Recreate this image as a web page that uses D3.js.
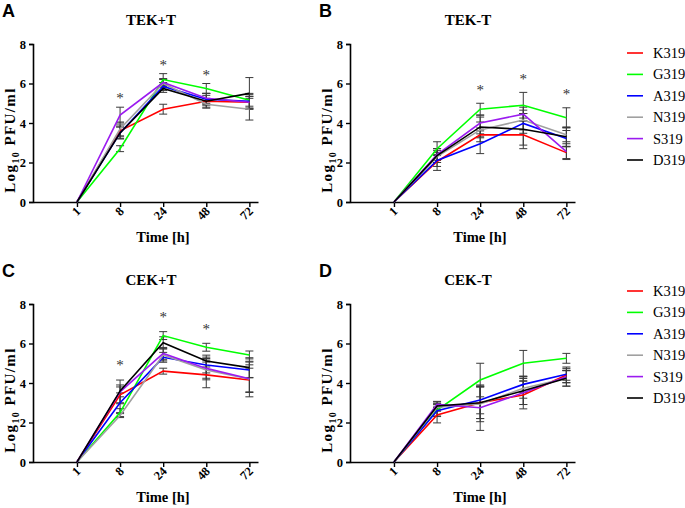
<!DOCTYPE html>
<html>
<head>
<meta charset="utf-8">
<script src="https://cdn.jsdelivr.net/npm/d3@7"></script>
<style>
  body { margin: 0; background: #fff; }
</style>
</head>
<body>
<div id="chart"></div>
<script>
// time points (categorical) and strains
var times = ["1", "8", "24", "48", "72"];
var strains = ["K319", "G319", "A319", "N319", "S319", "D319"];
var colors = ["#ff0000", "#00ff00", "#0000ff", "#a0a0a0", "#9b1bf0", "#000000"];
var yTicks = [0, 2, 4, 6, 8];

// A: TEK+T  (rows follow strains order)
var tekPlusMean = [
    [0, 3.6, 4.7, 5.1, 5.05],
    [0, 2.7, 6.2, 5.75, 5.15],
    [0, 3.5, 5.85, 5.2, 5.1],
    [0, 3.7, 6.0, 4.95, 4.7],
    [0, 4.4, 6.05, 5.25, 5.05],
    [0, 3.5, 5.75, 5.1, 5.5]
];
var tekPlusSd = [
    [0, 0.3, 0.25, 0.15, 0.3],
    [0, 0.15, 0.3, 0.25, 0.3],
    [0, 0.3, 0.2, 0.3, 0.4],
    [0, 0.35, 0.2, 0.2, 0.55],
    [0, 0.4, 0.2, 0.25, 0.3],
    [0, 0.3, 0.2, 0.3, 0.8]
];
var tekPlusStars = ["8", "24", "48"];
var tekPlusStarY = [5.4, 7.1, 6.6];

// B: TEK-T
var tekMinusMean = [
    [0, 2.05, 3.4, 3.4, 2.5],
    [0, 2.7, 4.7, 4.9, 4.27],
    [0, 2.1, 2.95, 3.98, 3.22],
    [0, 2.3, 3.65, 4.15, 3.4],
    [0, 2.4, 4.0, 4.45, 2.55],
    [0, 2.35, 3.8, 3.68, 3.3]
];
var tekMinusSd = [
    [0, 0.45, 0.35, 0.7, 0.3],
    [0, 0.35, 0.3, 0.65, 0.5],
    [0, 0.3, 0.5, 0.5, 0.4],
    [0, 0.3, 0.4, 0.5, 0.35],
    [0, 0.3, 0.4, 0.35, 0.4],
    [0, 0.35, 0.5, 0.8, 0.5]
];
var tekMinusStars = ["24", "48", "72"];
var tekMinusStarY = [5.8, 6.4, 5.6];

// C: CEK+T
var cekPlusMean = [
    [0, 3.4, 4.6, 4.41, 4.15],
    [0, 2.5, 6.4, 5.81, 5.42],
    [0, 3.0, 5.3, 4.91, 4.66],
    [0, 2.35, 5.42, 4.66, 4.2],
    [0, 3.55, 5.5, 4.74, 4.22],
    [0, 3.6, 6.04, 5.11, 4.78]
];
var cekPlusSd = [
    [0, 0.4, 0.15, 0.65, 0.6],
    [0, 0.2, 0.2, 0.2, 0.2],
    [0, 0.5, 0.25, 0.4, 0.4],
    [0, 0.1, 0.3, 0.5, 0.9],
    [0, 0.6, 0.3, 0.5, 0.7],
    [0, 0.3, 0.3, 0.3, 0.5]
];
var cekPlusStars = ["8", "24", "48"];
var cekPlusStarY = [5.05, 7.5, 6.9];

// D: CEK-T
var cekMinusMean = [
    [0, 2.38, 3.0, 3.39, 4.41],
    [0, 2.63, 4.15, 5.0, 5.25],
    [0, 2.6, 3.14, 3.93, 4.44],
    [0, 2.77, 2.94, 3.73, 4.24],
    [0, 2.92, 2.75, 3.51, 4.32],
    [0, 2.84, 3.0, 3.61, 4.24]
];
var cekMinusSd = [
    [0, 0.4, 0.8, 0.7, 0.4],
    [0, 0.3, 0.85, 0.65, 0.25],
    [0, 0.3, 0.7, 0.4, 0.3],
    [0, 0.2, 0.9, 0.5, 0.4],
    [0, 0.15, 1.15, 0.6, 0.3],
    [0, 0.2, 0.8, 0.7, 0.4]
];
var cekMinusStars = [];
var cekMinusStarY = [];

function init() {
    var w = 685;
    var h = 508;
    var plotW = 225;   // axis length in x
    var plotH = 158;   // axis length in y
    var serif = "Liberation Serif";

    var svg = d3.select("#chart")
        .append("svg")
        .attr("width", w)
        .attr("height", h);

    var panels = [
        {letter: "A", title: "TEK+T", mean: tekPlusMean, sd: tekPlusSd, stars: tekPlusStars, starY: tekPlusStarY, x: 33, y: 44, legend: true},
        {letter: "B", title: "TEK-T", mean: tekMinusMean, sd: tekMinusSd, stars: tekMinusStars, starY: tekMinusStarY, x: 350, y: 44, legend: false},
        {letter: "C", title: "CEK+T", mean: cekPlusMean, sd: cekPlusSd, stars: cekPlusStars, starY: cekPlusStarY, x: 33, y: 304, legend: true},
        {letter: "D", title: "CEK-T", mean: cekMinusMean, sd: cekMinusSd, stars: cekMinusStars, starY: cekMinusStarY, x: 350, y: 304, legend: false}
    ];

    //x is the index of the time point, first point sits one step from the axis
    var xScale = d3.scaleLinear().domain([-1.02, 4.2]).range([0, plotW]);
    var yScale = d3.scaleLinear().domain([0, 8]).range([plotH, 0]);

    panels.forEach(function (p, pi) {
        var g = svg.append("g").attr("transform", "translate(" + p.x + "," + p.y + ")");

        //panel letter
        svg.append("text")
            .attr("x", p.x - 31)
            .attr("y", p.y - 27)
            .attr("font-family", "Liberation Sans")
            .attr("font-weight", "bold")
            .attr("font-size", 18)
            .text(p.letter);

        //panel title
        g.append("text")
            .attr("x", 118)
            .attr("y", -19)
            .attr("text-anchor", "middle")
            .attr("font-family", serif)
            .attr("font-weight", "bold")
            .attr("font-size", 15)
            .text(p.title);

        //y axis
        var yAxis = g.append("g")
            .call(d3.axisLeft(yScale).tickValues(yTicks).tickSize(4).tickPadding(3).tickFormat(d3.format("d")));
        yAxis.attr("font-family", serif).attr("font-size", 12.5).attr("font-weight", "bold");
        yAxis.select(".domain").attr("stroke-width", 1.6);
        yAxis.selectAll(".tick line").attr("stroke-width", 1.4);

        //x axis with rotated labels
        var xAxis = g.append("g")
            .attr("transform", "translate(0," + plotH + ")")
            .call(d3.axisBottom(xScale).tickValues(d3.range(times.length)).tickSize(5).tickSizeOuter(0)
                .tickFormat(function (i) { return times[i]; }));
        xAxis.attr("font-family", serif).attr("font-size", 12.5).attr("font-weight", "bold");
        xAxis.select(".domain").attr("stroke-width", 1.6);
        xAxis.selectAll(".tick line").attr("stroke-width", 1.4);
        xAxis.selectAll(".tick text")
            .attr("text-anchor", "end")
            .attr("dy", null)
            .attr("y", 0)
            .attr("transform", "translate(4,10) rotate(-45)");

        //axis titles
        g.append("text")
            .attr("x", 130)
            .attr("y", plotH + 40)
            .attr("text-anchor", "middle")
            .attr("font-family", serif)
            .attr("font-weight", "bold")
            .attr("font-size", 14.5)
            .text("Time [h]");

        var yl = g.append("text")
            .attr("transform", "translate(-18," + (plotH / 2 + 17) + ") rotate(-90)")
            .attr("text-anchor", "middle")
            .attr("font-family", serif)
            .attr("font-weight", "bold")
            .attr("font-size", 15)
            .attr("letter-spacing", 1.4);
        yl.append("tspan").text("Log");
        yl.append("tspan").attr("font-size", 10).attr("dy", 4).text("10");
        yl.append("tspan").attr("dy", -4).text(" PFU/ml");

        //error bars (skip the zero time point)
        strains.forEach(function (s, si) {
            p.sd[si].forEach(function (e, ti) {
                if (e <= 0) return;
                var cx = xScale(ti);
                var top = yScale(p.mean[si][ti] + e);
                var bot = yScale(p.mean[si][ti] - e);
                var eg = g.append("g").attr("stroke", "#3a3a3a").attr("stroke-width", 1);
                eg.append("line").attr("x1", cx).attr("x2", cx).attr("y1", top).attr("y2", bot);
                eg.append("line").attr("x1", cx - 4).attr("x2", cx + 4).attr("y1", top).attr("y2", top);
                eg.append("line").attr("x1", cx - 4).attr("x2", cx + 4).attr("y1", bot).attr("y2", bot);
            });
        });

        //series lines
        var line = d3.line()
            .x(function (d, i) { return xScale(i); })
            .y(function (d) { return yScale(d); });

        strains.forEach(function (s, si) {
            g.append("path")
                .datum(p.mean[si])
                .attr("fill", "none")
                .attr("stroke", colors[si])
                .attr("stroke-width", 1.6)
                .attr("d", line);
        });

        //significance stars
        p.stars.forEach(function (t, k) {
            g.append("text")
                .attr("x", xScale(times.indexOf(t)))
                .attr("y", yScale(p.starY[k]) + 8)
                .attr("text-anchor", "middle")
                .attr("font-family", serif)
                .attr("font-size", 15)
                .attr("fill", "#333333")
                .text("*");
        });

        //legend to the right of B and D
        if (p.legend) {
            var lg = svg.append("g").attr("transform", "translate(627," + (p.y + 9 - (pi > 0 ? 22 : 0)) + ")");
            strains.forEach(function (s, si) {
                var row = lg.append("g").attr("transform", "translate(0," + (si * 21.4) + ")");
                row.append("line")
                    .attr("x1", 0).attr("x2", 16)
                    .attr("stroke", colors[si])
                    .attr("stroke-width", 1.6);
                row.append("text")
                    .attr("x", 26)
                    .attr("y", 5)
                    .attr("font-family", serif)
                    .attr("font-size", 14.5)
                    .text(s);
            });
        }
    });
}

window.onload = init;
</script>
</body>
</html>
